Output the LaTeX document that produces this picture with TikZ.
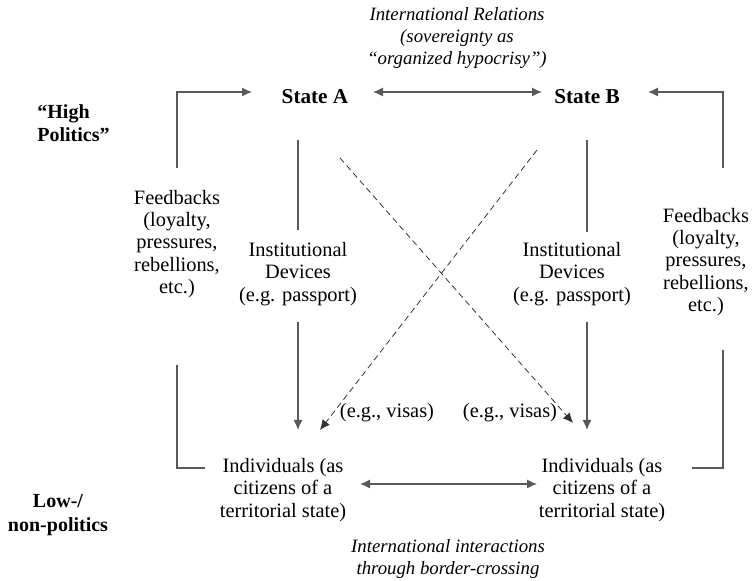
\documentclass[tikz,border=0pt]{standalone}
\usepackage{fontspec}
\setmainfont{Liberation Serif}
\usetikzlibrary{positioning, arrows.meta}

\tikzset{
  lbl/.style={align=center, font=\fontsize{10.2}{11.2}\selectfont, inner sep=0pt},
  statebox/.style={font=\fontsize{10.6}{12}\selectfont\bfseries, inner sep=0pt},
  note/.style={align=center, font=\fontsize{9.4}{10.8}\selectfont\itshape, inner sep=0pt},
  level/.style={font=\fontsize{10}{11.6}\selectfont\bfseries, inner sep=0pt},
  link/.style={draw=black!65, line width=0.75pt},
  arr/.style={link, -{Latex[length=5pt,width=4.6pt]}},
  dbl/.style={link, {Latex[length=5pt,width=4.6pt]}-{Latex[length=5pt,width=4.6pt]}},
  visa/.style={draw=black!80, line width=0.4pt, densely dashed, -{Latex[length=5pt,width=4.6pt]}}
}

\begin{document}
\begin{tikzpicture}[x=0.5pt, y=-0.5pt]
  \useasboundingbox (0,0) rectangle (752,581);

  % levels
  \node[level, align=left, anchor=west] (high) at (37,123) {``High\\Politics''};
  \node[level, align=center] (low) at (58,515) {Low-/\\non-politics};

  % states
  \node[statebox] (stA) at (315,97) {State A};
  \node[statebox] (stB) at (587,97) {State B};
  \node[note] (ir) at (457,38) {International Relations\\(sovereignty as\\``organized hypocrisy'')};

  % individuals
  \node[lbl] (indA) at (283,490) {Individuals (as\\citizens of a\\territorial state)};
  \node[lbl] (indB) at (602,490) {Individuals (as\\citizens of a\\territorial state)};
  \node[note] (bc) at (448,559) {International interactions\\through border-crossing};

  % side labels
  \node[lbl] (instA) at (298,274) {Institutional\\Devices\\(e.g. passport)};
  \node[lbl] (instB) at (572,274) {Institutional\\Devices\\(e.g. passport)};
  \node[lbl] (fbA) at (177,244) {Feedbacks\\(loyalty,\\pressures,\\rebellions,\\etc.)};
  \node[lbl] (fbB) at (706,262) {Feedbacks\\(loyalty,\\pressures,\\rebellions,\\etc.)};
  \node[lbl] (visaA) at (387,413) {(e.g., visas)};
  \node[lbl] (visaB) at (510,413) {(e.g., visas)};

  % line ends
  \coordinate (fbA-up) at (177,168);
  \coordinate (fbA-in) at (252,92);
  \coordinate (fbA-dn) at (177,365);
  \coordinate (fbA-out) at (205,468);
  \coordinate (fbB-up) at (723,168);
  \coordinate (fbB-in) at (648,92);
  \coordinate (fbB-dn) at (723,350);
  \coordinate (fbB-out) at (692,468);
  \coordinate (instA-a) at (298,140);
  \coordinate (instA-b) at (298,230);
  \coordinate (instA-c) at (298,322);
  \coordinate (instA-d) at (298,430);
  \coordinate (instB-a) at (587,140);
  \coordinate (instB-b) at (587,232);
  \coordinate (instB-c) at (587,322);
  \coordinate (instB-d) at (587,430);
  \coordinate (visaA-s) at (537,150);
  \coordinate (visaA-e) at (320,430);
  \coordinate (visaB-s) at (340,158);
  \coordinate (visaB-e) at (573,423);
  \coordinate (ir-l) at (373,92);
  \coordinate (ir-r) at (542,92);
  \coordinate (bc-l) at (360,484);
  \coordinate (bc-r) at (537,484);

  % connectors
  \draw[arr] (fbA-up) |- (fbA-in);
  \draw[link] (fbA-dn) |- (fbA-out);
  \draw[arr] (fbB-up) |- (fbB-in);
  \draw[link] (fbB-dn) |- (fbB-out);
  \draw[link] (instA-a) -- (instA-b);
  \draw[arr] (instA-c) -- (instA-d);
  \draw[link] (instB-a) -- (instB-b);
  \draw[arr] (instB-c) -- (instB-d);
  \draw[visa] (visaA-s) -- (visaA-e);
  \draw[visa] (visaB-s) -- (visaB-e);
  \draw[dbl] (ir-l) -- (ir-r);
  \draw[dbl] (bc-l) -- (bc-r);
\end{tikzpicture}
\end{document}
